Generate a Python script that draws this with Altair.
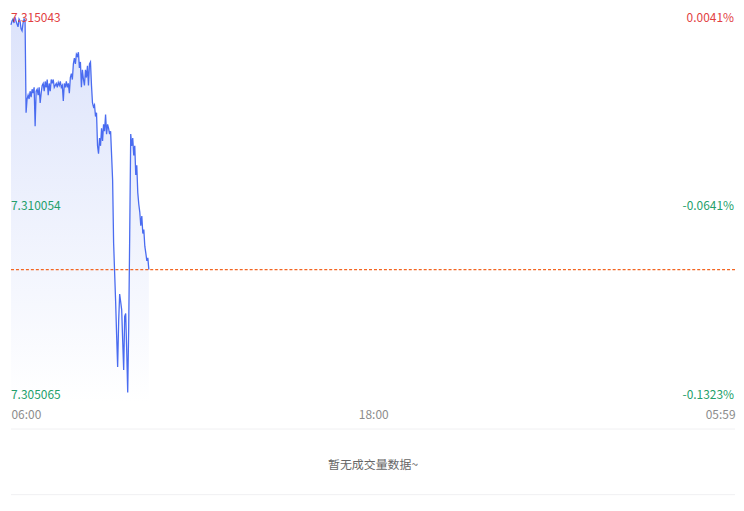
import altair as alt
import pandas as pd

# ---- data (price every 2 minutes from 06:00) ----
prices = [
    7.314647, 7.314746, 7.314795, 7.314696, 7.314845, 7.314746, 7.314672, 7.314597,
    7.314795, 7.314746, 7.314548, 7.314498, 7.314696, 7.314795, 7.314746, 7.312419,
    7.312765, 7.312864, 7.312765, 7.312963, 7.312815, 7.313013, 7.312914, 7.313062,
    7.312072, 7.312963, 7.313013, 7.312864, 7.313062, 7.312666, 7.312914, 7.313112,
    7.313161, 7.312963, 7.313211, 7.313062, 7.313260, 7.312864, 7.313161, 7.312963,
    7.313260, 7.313161, 7.313260, 7.313062, 7.313112, 7.313161, 7.313062, 7.313186,
    7.313112, 7.313211, 7.313062, 7.313112, 7.312716, 7.313161, 7.313062, 7.313211,
    7.313062, 7.313161, 7.312914, 7.313310, 7.313409, 7.313260, 7.313656, 7.313805,
    7.313656, 7.313904, 7.313855, 7.313954, 7.313557, 7.313706, 7.313062, 7.313508,
    7.313260, 7.313112, 7.313508, 7.313310, 7.313607, 7.313112, 7.313656, 7.313706,
    7.313112, 7.312666, 7.312567, 7.312617, 7.312320, 7.312419, 7.311577, 7.311379,
    7.311775, 7.311577, 7.312022, 7.311701, 7.312121, 7.311948, 7.312369, 7.311874,
    7.312121, 7.312022, 7.311874, 7.311948, 7.311329, 7.310710, 7.309101, 7.308358,
    7.307615, 7.306749, 7.305956, 7.307120, 7.307813, 7.307615, 7.307417, 7.306625,
    7.305882, 7.307244, 7.307318, 7.306377, 7.305313, 7.306996, 7.309348, 7.311874,
    7.311577, 7.311775, 7.311329, 7.311577, 7.310834, 7.311082, 7.310388, 7.310091,
    7.309893, 7.309547, 7.309794, 7.309348, 7.309447, 7.309027, 7.308853, 7.308655,
    7.308729, 7.308432,
]
start = pd.Timestamp("2024-01-01 06:00")
times = [(start + pd.Timedelta(minutes=2 * i)).strftime("%Y-%m-%dT%H:%M:%S")
         for i in range(len(prices))]

y_min, y_mid, y_max = 7.305065, 7.310054, 7.315043
y_grid = [7.305065, 7.3075595, 7.310054, 7.3125485, 7.315043]
price_labels = ["7.315043", "7.310054", "7.305065"]
pct_labels = ["0.0041%", "-0.0641%", "-0.1323%"]
label_values = [y_max, y_mid, y_min]
label_colors = ["#e2403f", "#24a06b", "#24a06b"]
label_pos = ["top", "middle", "bottom"]
volume_note = "暂无成交量数据~"

W, H = 728, 395
FONT = "Noto Sans CJK SC"

df = pd.DataFrame({"time": times, "price": prices})
lab = pd.DataFrame({"value": label_values, "left": price_labels, "right": pct_labels,
                    "color": label_colors, "pos": label_pos})

x_enc = alt.X(
    "time:T",
    scale=alt.Scale(domain=[alt.DateTime(year=2024, month=1, date=1, hours=6, minutes=0),
                            alt.DateTime(year=2024, month=1, date=2, hours=5, minutes=59)]),
    axis=alt.Axis(
        values=[alt.DateTime(year=2024, month=1, date=1, hours=6, minutes=0),
                alt.DateTime(year=2024, month=1, date=1, hours=18, minutes=0),
                alt.DateTime(year=2024, month=1, date=2, hours=5, minutes=59)],
        format="%H:%M", labelFlush=True, ticks=False, domain=False, grid=False,
        labelColor="#8c8c8c", labelFont=FONT, labelFontSize=12, labelPadding=7, title=None,
    ),
)
y_scale = alt.Scale(domain=[y_min, y_max], nice=False, zero=False)
y_enc = alt.Y(
    "price:Q", scale=y_scale,
    axis=alt.Axis(values=y_grid, labels=False, ticks=False, domain=False, grid=True,
                  gridColor="#f0f0f2", title=None),
)

gradient = alt.Gradient(
    gradient="linear",
    stops=[alt.GradientStop(color="#dce3fb", offset=0),
           alt.GradientStop(color="#ffffff", offset=1)],
    x1=1, x2=1, y1=0, y2=1,
)

base = alt.Chart(df)
area = base.mark_area(color=gradient).encode(x=x_enc, y=y_enc, y2=alt.datum(y_min))
line = base.mark_line(color="#4a6cf0", strokeWidth=1.3).encode(x=x_enc, y=y_enc)

last = alt.Chart(pd.DataFrame({"price": [prices[-1]]})).mark_rule(
    color="#f26522", strokeDash=[3, 2], strokeWidth=1.2
).encode(y=alt.Y("price:Q", scale=y_scale, axis=None))

text_layers = []
dys = {"top": 4, "middle": 0, "bottom": 0}
for pos in label_pos:
    sub = alt.Chart(lab).transform_filter(alt.datum.pos == pos)
    text_layers.append(
        sub.mark_text(align="left", baseline=pos, dx=0, dy=dys[pos], font=FONT, fontSize=12).encode(
            x=alt.value(0), y=alt.Y("value:Q", scale=y_scale, axis=None),
            text="left:N", color=alt.Color("color:N", scale=None)))
    text_layers.append(
        sub.mark_text(align="right", baseline=pos, dx=-1, dy=dys[pos], font=FONT, fontSize=12).encode(
            x=alt.value(W), y=alt.Y("value:Q", scale=y_scale, axis=None),
            text="right:N", color=alt.Color("color:N", scale=None)))

one = pd.DataFrame({"a": [0]})
sep1 = alt.Chart(one).mark_rule(color="#f0f0f2", strokeWidth=1).encode(
    x=alt.value(0), x2=alt.value(W), y=alt.value(422))
sep2 = alt.Chart(one).mark_rule(color="#f0f0f2", strokeWidth=1).encode(
    x=alt.value(0), x2=alt.value(W), y=alt.value(488))
vol = alt.Chart(pd.DataFrame({"t": [volume_note]})).mark_text(
    font=FONT, fontSize=12, color="#666666", align="center", baseline="middle"
).encode(text="t:N", x=alt.value(W / 2), y=alt.value(458))

chart = alt.layer(area, line, last, *text_layers, sep1, sep2, vol).properties(
    width=W, height=H, padding=0, background="white"
).configure_view(stroke=None)

chart.save("out.html", embed_options={"renderer": "svg", "actions": False})
